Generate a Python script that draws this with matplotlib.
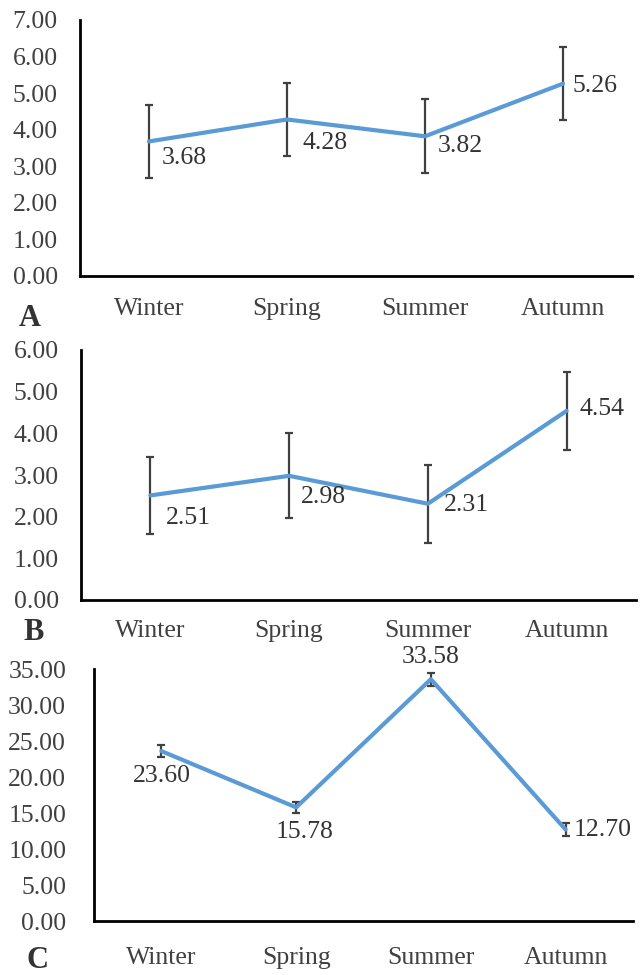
import matplotlib
matplotlib.use("Agg")
import matplotlib.pyplot as plt

plt.rcParams["font.family"] = ["Liberation Serif", "DejaVu Serif"]

seasons = ["Winter", "Spring", "Summer", "Autumn"]

# panel A
a_vals = [3.68, 4.28, 3.82, 5.26]
a_err = [1.00, 1.01, 1.01, 1.00]
# panel B
b_vals = [2.51, 2.98, 2.31, 4.54]
b_err = [0.93, 1.02, 0.93, 0.93]
# panel C
c_vals = [23.60, 15.78, 33.58, 12.70]
c_err = [0.80, 0.80, 0.90, 0.90]

W, H = 642, 975
BLUE = "#5B9BD5"
GREY = "#404040"


def px_axes(fig, left, right, top, bottom):
    return fig.add_axes([left / W, 1 - bottom / H, (right - left) / W, (bottom - top) / H])


def panel(ax, vals, errs, ymax, step, offsets, ypad, xpad):
    x = [i + 0.5 for i in range(len(vals))]
    ax.errorbar(x, vals, yerr=errs, fmt="none", ecolor="#404040", elinewidth=1.6,
                capsize=3, capthick=1.6, zorder=2)
    ax.plot(x, vals, color=BLUE, lw=3, solid_capstyle="round", zorder=3)
    for xi, v, (dx, dy, ha) in zip(x, vals, offsets):
        ax.annotate(f"{v:.2f}", (xi, v), xytext=(dx, dy), textcoords="offset points",
                    ha=ha, va="center", fontsize=18.5, color="#333333")
    ax.set_xlim(0, len(vals))
    ax.set_ylim(0, ymax)
    ax.set_yticks([i * step for i in range(int(round(ymax / step)) + 1)])
    ax.yaxis.set_major_formatter(matplotlib.ticker.FormatStrFormatter("%.2f"))
    ax.set_xticks(x)
    ax.set_xticklabels(seasons)
    for s in ("top", "right"):
        ax.spines[s].set_visible(False)
    for s in ("left", "bottom"):
        ax.spines[s].set_linewidth(2)
        ax.spines[s].set_color("black")
    ax.tick_params(axis="both", length=0, labelsize=18.5, labelcolor=GREY)
    ax.tick_params(axis="x", pad=xpad)
    ax.tick_params(axis="y", pad=ypad)


fig = plt.figure(figsize=(W / 100, H / 100), dpi=100)

ax_a = px_axes(fig, 80, 632, 20, 276)
panel(ax_a, a_vals, a_err, 7, 1,
      [(9.4, -12, "left"), (11.5, -17, "left"), (9.4, -7, "left"), (6.5, -2, "left")],
      16, 16)

ax_b = px_axes(fig, 81, 636, 350, 600)
panel(ax_b, b_vals, b_err, 6, 1,
      [(11, -16.5, "left"), (8.6, -15, "left"), (11.5, -1, "left"), (9.4, 1, "left")],
      16, 14.5)

ax_c = px_axes(fig, 94, 633, 669, 921)
panel(ax_c, c_vals, c_err, 35, 5,
      [(0, -18, "center"), (5.8, -18, "center"), (0, 16, "center"), (5.8, 0, "left")],
      20, 19)

for letter, (lx, ly) in zip("ABC", [(30, 318), (34, 632), (37, 961)]):
    fig.text(lx / W, 1 - ly / H, letter, fontsize=22, fontweight="bold", color="#333333",
             ha="center", va="center")

fig.savefig("out.png", dpi=100)
